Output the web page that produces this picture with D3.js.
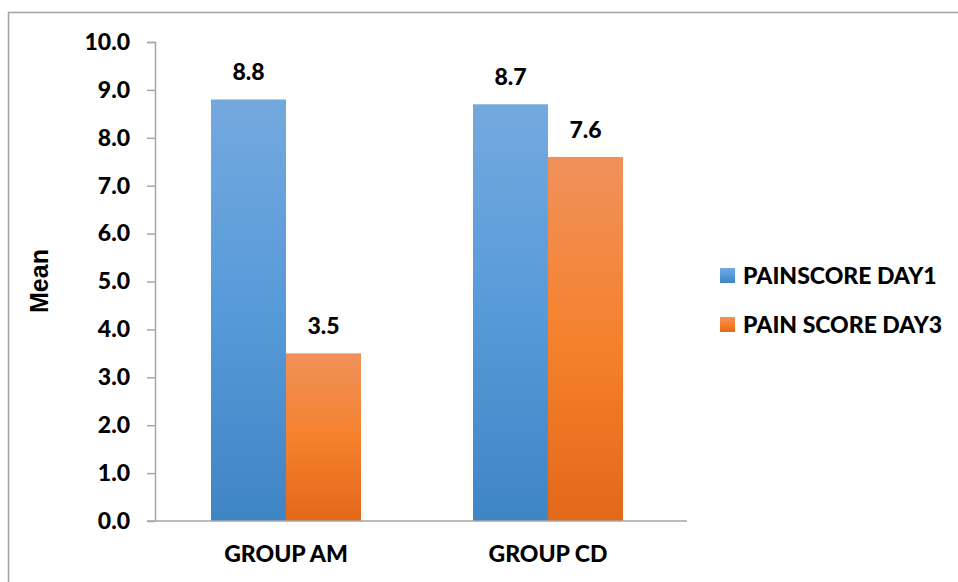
<!DOCTYPE html>
<html>
<head>
<meta charset="utf-8">
<script src="https://cdn.jsdelivr.net/npm/d3@7"></script>
<style>
  html, body { margin: 0; padding: 0; background: #fff; }
  svg { display: block; }
</style>
</head>
<body>
<svg id="chart" width="958" height="582"></svg>
<script>
// Groups along the x axis
const categories = ["GROUP AM", "GROUP CD"];
// Series names and their mean pain scores per group
const seriesNames = ["PAINSCORE DAY1", "PAIN SCORE DAY3"];
const day1Values = [8.8, 8.7];
const day3Values = [3.5, 7.6];
// Y axis ticks
const yTicks = [0, 1, 2, 3, 4, 5, 6, 7, 8, 9, 10];

const seriesValues = [day1Values, day3Values];
const data = categories.map((c, i) => ({
  category: c,
  values: seriesNames.map((s, j) => ({ series: s, idx: j, value: seriesValues[j][i] }))
}));

const svg = d3.select("#chart");
const W = 958, H = 582;
const margin = { left: 155, right: 279, top: 42, bottom: 61 };
const plotW = W - margin.left - margin.right;
const plotH = H - margin.top - margin.bottom;

const FONT = "Lato, 'Open Sans', sans-serif";

// Gradients for the bar fills
const defs = svg.append("defs");
const gradStops = [
  [{ o: "0%", c: "#74a9de" }, { o: "50%", c: "#579ad9" }, { o: "100%", c: "#3f84c5" }],
  [{ o: "0%", c: "#f0915b" }, { o: "50%", c: "#f5812d" }, { o: "100%", c: "#e3681a" }]
];
gradStops.forEach((stops, i) => {
  const g = defs.append("linearGradient")
    .attr("id", "grad" + i)
    .attr("x1", 0).attr("y1", 0).attr("x2", 0).attr("y2", 1);
  stops.forEach(s => g.append("stop").attr("offset", s.o).attr("stop-color", s.c));
});

// Outer frame
svg.append("rect")
  .attr("x", 8.5).attr("y", 12.5)
  .attr("width", 960).attr("height", 600)
  .attr("fill", "none")
  .attr("stroke", "#a0a0a0")
  .attr("stroke-width", 1.5);

const g = svg.append("g").attr("transform", `translate(${margin.left},${margin.top})`);

const x0 = d3.scaleBand().domain(categories).range([0, plotW]).paddingInner(0).paddingOuter(0);
const groupWidth = 150;
const x1 = d3.scaleBand().domain(seriesNames).range([0, groupWidth]).padding(0);
const y = d3.scaleLinear().domain([0, 10]).range([plotH, 0]);

// Y axis
const yAxis = g.append("g")
  .call(d3.axisLeft(y).tickValues(yTicks).tickFormat(d3.format(".1f")).tickSize(8).tickPadding(17));
yAxis.select(".domain").attr("stroke", "#a6a6a6").attr("stroke-width", 1.5)
  .attr("d", `M-8,0.5H0.5V${plotH}`);
yAxis.selectAll(".tick line").attr("stroke", "#a6a6a6").attr("stroke-width", 1.5);
yAxis.selectAll(".tick text")
  .attr("fill", "#000")
  .style("font-family", FONT)
  .style("font-weight", "900")
  .style("font-size", "23px");

// Bars
const groups = g.selectAll(".grp").data(data).enter().append("g")
  .attr("transform", d => `translate(${x0(d.category) + (x0.bandwidth() - groupWidth) / 2},0)`);

groups.selectAll("rect").data(d => d.values).enter().append("rect")
  .attr("x", d => x1(d.series))
  .attr("y", d => y(d.value))
  .attr("width", x1.bandwidth())
  .attr("height", d => plotH - y(d.value))
  .attr("fill", d => `url(#grad${d.idx})`);

// Value labels
groups.selectAll("text").data(d => d.values).enter().append("text")
  .attr("x", d => x1(d.series) + x1.bandwidth() / 2)
  .attr("y", d => y(d.value) - 19)
  .attr("text-anchor", "middle")
  .style("font-family", FONT)
  .style("font-weight", "900")
  .style("font-size", "23px")
  .text(d => d3.format(".1f")(d.value));

// X axis
const xAxis = g.append("g").attr("transform", `translate(0,${plotH})`)
  .call(d3.axisBottom(x0).tickSize(0).tickPadding(25));
xAxis.select(".domain").attr("stroke", "#a6a6a6").attr("stroke-width", 1.5)
  .attr("d", `M-8,0H${plotW + 8}`);
xAxis.selectAll(".tick text")
  .attr("fill", "#000")
  .style("font-family", FONT)
  .style("font-weight", "900")
  .style("font-size", "23px");

// Y axis title
svg.append("text")
  .attr("transform", "translate(48,281) rotate(-90)")
  .attr("text-anchor", "middle")
  .style("font-family", "'Liberation Sans', Arial, sans-serif")
  .style("font-weight", "bold")
  .style("font-size", "25px")
  .text("Mean");

// Legend
const legend = svg.append("g").attr("transform", "translate(720,268)");
seriesNames.forEach((s, i) => {
  const row = legend.append("g").attr("transform", `translate(0,${i * 49})`);
  row.append("rect").attr("width", 15).attr("height", 15).attr("fill", `url(#grad${i})`);
  row.append("text")
    .attr("x", 23).attr("y", 8)
    .attr("dy", "0.36em")
    .style("font-family", FONT)
    .style("font-weight", "900")
    .style("font-size", "23px")
    .text(s);
});
</script>
</body>
</html>
